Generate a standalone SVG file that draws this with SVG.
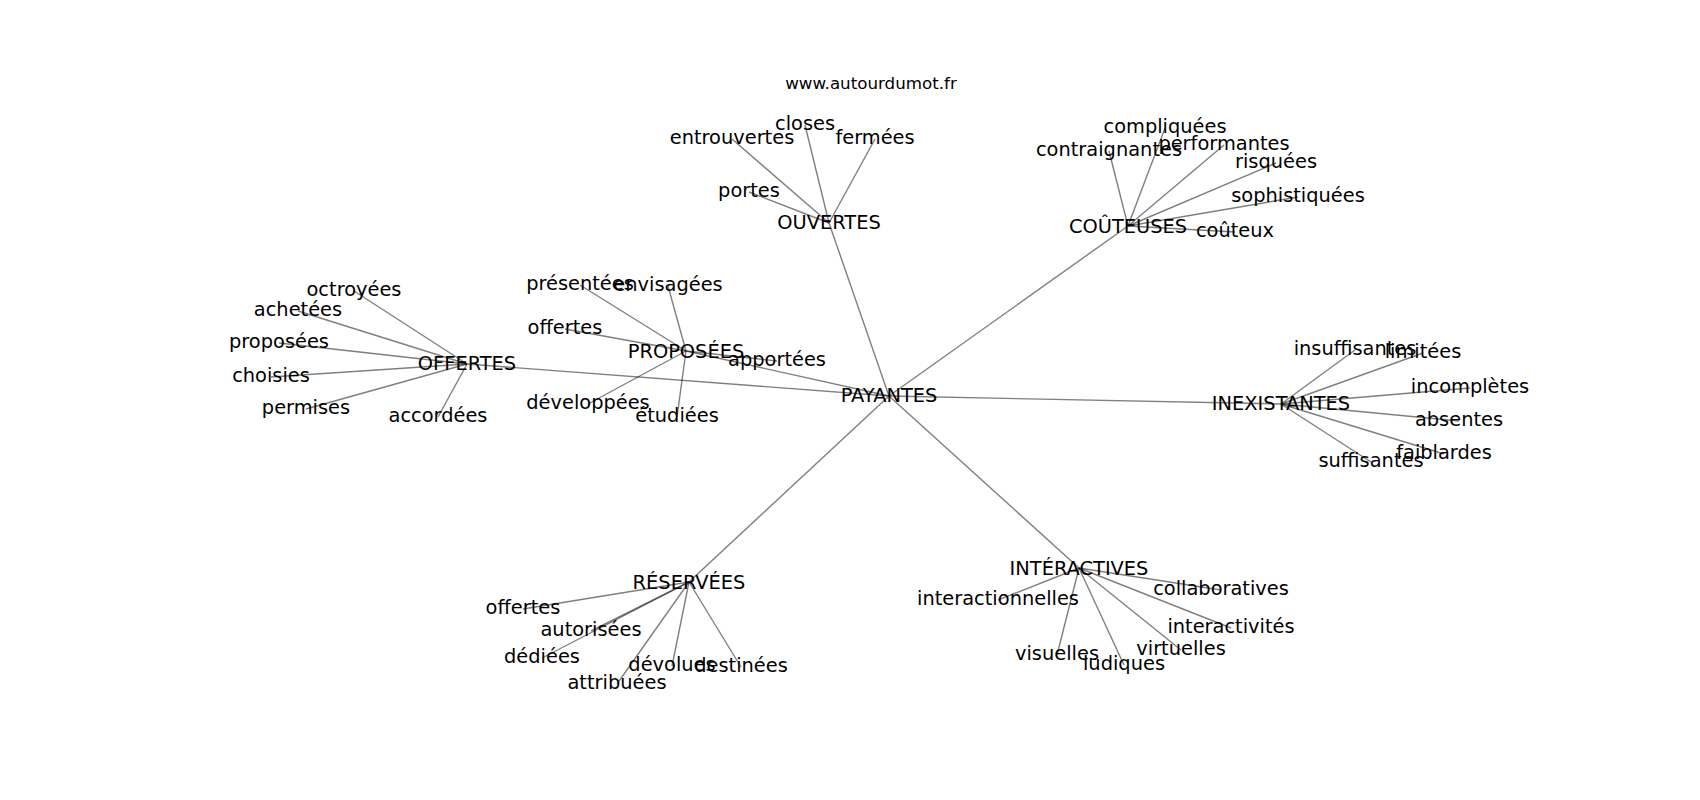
<svg xmlns="http://www.w3.org/2000/svg" width="1700" height="800" viewBox="0 0 1700 800">
<style>
text{font-family:"DejaVu Sans","Liberation Sans",sans-serif;font-size:19.4px;fill:#000;text-anchor:middle}
.t{font-size:16.7px}
#edges line{stroke:#000;stroke-opacity:0.5;stroke-width:1.4}
</style>
<rect width="1700" height="800" fill="#fff"/>
<g id="edges">
<line x1="889" y1="396" x2="829" y2="223"/>
<line x1="889" y1="396" x2="1128" y2="226"/>
<line x1="889" y1="396" x2="467" y2="364"/>
<line x1="889" y1="396" x2="686" y2="351"/>
<line x1="889" y1="396" x2="1281" y2="404"/>
<line x1="889" y1="396" x2="689" y2="582"/>
<line x1="889" y1="396" x2="1079" y2="568"/>
<line x1="829" y1="223" x2="805" y2="125"/>
<line x1="829" y1="223" x2="732" y2="139"/>
<line x1="829" y1="223" x2="875" y2="139"/>
<line x1="829" y1="223" x2="749" y2="192"/>
<line x1="1128" y1="226" x2="1165" y2="128"/>
<line x1="1128" y1="226" x2="1109" y2="151"/>
<line x1="1128" y1="226" x2="1224" y2="145"/>
<line x1="1128" y1="226" x2="1276" y2="163"/>
<line x1="1128" y1="226" x2="1298" y2="197"/>
<line x1="1128" y1="226" x2="1235" y2="232"/>
<line x1="467" y1="364" x2="354" y2="291"/>
<line x1="467" y1="364" x2="298" y2="311"/>
<line x1="467" y1="364" x2="279" y2="343"/>
<line x1="467" y1="364" x2="271" y2="377"/>
<line x1="467" y1="364" x2="306" y2="409"/>
<line x1="467" y1="364" x2="438" y2="417"/>
<line x1="686" y1="351" x2="580" y2="285"/>
<line x1="686" y1="351" x2="668" y2="286"/>
<line x1="686" y1="351" x2="565" y2="329"/>
<line x1="686" y1="351" x2="588" y2="404"/>
<line x1="686" y1="351" x2="677" y2="417"/>
<line x1="686" y1="351" x2="777" y2="361"/>
<line x1="1281" y1="404" x2="1355" y2="350"/>
<line x1="1281" y1="404" x2="1423" y2="353"/>
<line x1="1281" y1="404" x2="1470" y2="388"/>
<line x1="1281" y1="404" x2="1459" y2="421"/>
<line x1="1281" y1="404" x2="1444" y2="454"/>
<line x1="1281" y1="404" x2="1371" y2="462"/>
<line x1="689" y1="582" x2="523" y2="609"/>
<line x1="689" y1="582" x2="591" y2="631"/>
<line x1="689" y1="582" x2="542" y2="658"/>
<line x1="689" y1="582" x2="672" y2="666"/>
<line x1="689" y1="582" x2="741" y2="667"/>
<line x1="689" y1="582" x2="617" y2="684"/>
<line x1="1079" y1="568" x2="998" y2="600"/>
<line x1="1079" y1="568" x2="1221" y2="590"/>
<line x1="1079" y1="568" x2="1231" y2="628"/>
<line x1="1079" y1="568" x2="1181" y2="650"/>
<line x1="1079" y1="568" x2="1057" y2="655"/>
<line x1="1079" y1="568" x2="1124" y2="665"/>
</g>
<text class="t" x="871" y="89">www.autourdumot.fr</text>
<g id="n-payantes"><text x="889" y="402">PAYANTES</text></g>
<g id="n-ouvertes"><text x="829" y="229">OUVERTES</text></g>
<g id="n-closes"><text x="805" y="130">closes</text></g>
<g id="n-entrouvertes"><text x="732" y="144">entrouvertes</text></g>
<g id="n-fermees"><text x="875" y="144">fermées</text></g>
<g id="n-portes"><text x="749" y="197">portes</text></g>
<g id="n-couteuses"><text x="1128" y="233">COÛTEUSES</text></g>
<g id="n-compliquees"><text x="1165" y="133">compliquées</text></g>
<g id="n-contraignantes"><text x="1109" y="156">contraignantes</text></g>
<g id="n-performantes"><text x="1224" y="150">performantes</text></g>
<g id="n-risquees"><text x="1276" y="168">risquées</text></g>
<g id="n-sophistiquees"><text x="1298" y="202">sophistiquées</text></g>
<g id="n-couteux"><text x="1235" y="237">coûteux</text></g>
<g id="n-offertes"><text x="467" y="370">OFFERTES</text></g>
<g id="n-octroyees"><text x="354" y="296">octroyées</text></g>
<g id="n-achetees"><text x="298" y="316">achetées</text></g>
<g id="n-proposees-l"><text x="279" y="348">proposées</text></g>
<g id="n-choisies"><text x="271" y="382">choisies</text></g>
<g id="n-permises"><text x="306" y="414">permises</text></g>
<g id="n-accordees"><text x="438" y="422">accordées</text></g>
<g id="n-proposees"><text x="686" y="358">PROPOSÉES</text></g>
<g id="n-presentees"><text x="580" y="290">présentées</text></g>
<g id="n-envisagees"><text x="668" y="291">envisagées</text></g>
<g id="n-offertes-p"><text x="565" y="334">offertes</text></g>
<g id="n-developpees"><text x="588" y="409">développées</text></g>
<g id="n-etudiees"><text x="677" y="422">étudiées</text></g>
<g id="n-apportees"><text x="777" y="366">apportées</text></g>
<g id="n-inexistantes"><text x="1281" y="410">INEXISTANTES</text></g>
<g id="n-insuffisantes"><text x="1355" y="355">insuffisantes</text></g>
<g id="n-limitees"><text x="1423" y="358">limitées</text></g>
<g id="n-incompletes"><text x="1470" y="393">incomplètes</text></g>
<g id="n-absentes"><text x="1459" y="426">absentes</text></g>
<g id="n-faiblardes"><text x="1444" y="459">faiblardes</text></g>
<g id="n-suffisantes"><text x="1371" y="467">suffisantes</text></g>
<g id="n-reservees"><text x="689" y="589">RÉSERVÉES</text></g>
<g id="n-offertes-r"><text x="523" y="614">offertes</text></g>
<g id="n-autorisees"><text x="591" y="636">autorisées</text></g>
<g id="n-dediees"><text x="542" y="663">dédiées</text></g>
<g id="n-devolues"><text x="672" y="671">dévolues</text></g>
<g id="n-destinees"><text x="741" y="672">destinées</text></g>
<g id="n-attribuees"><text x="617" y="689">attribuées</text></g>
<g id="n-interactives"><text x="1079" y="575">INTÉRACTIVES</text></g>
<g id="n-interactionnelles"><text x="998" y="605">interactionnelles</text></g>
<g id="n-collaboratives"><text x="1221" y="595">collaboratives</text></g>
<g id="n-interactivites"><text x="1231" y="633">interactivités</text></g>
<g id="n-virtuelles"><text x="1181" y="655">virtuelles</text></g>
<g id="n-visuelles"><text x="1057" y="660">visuelles</text></g>
<g id="n-ludiques"><text x="1124" y="670">ludiques</text></g>
</svg>
